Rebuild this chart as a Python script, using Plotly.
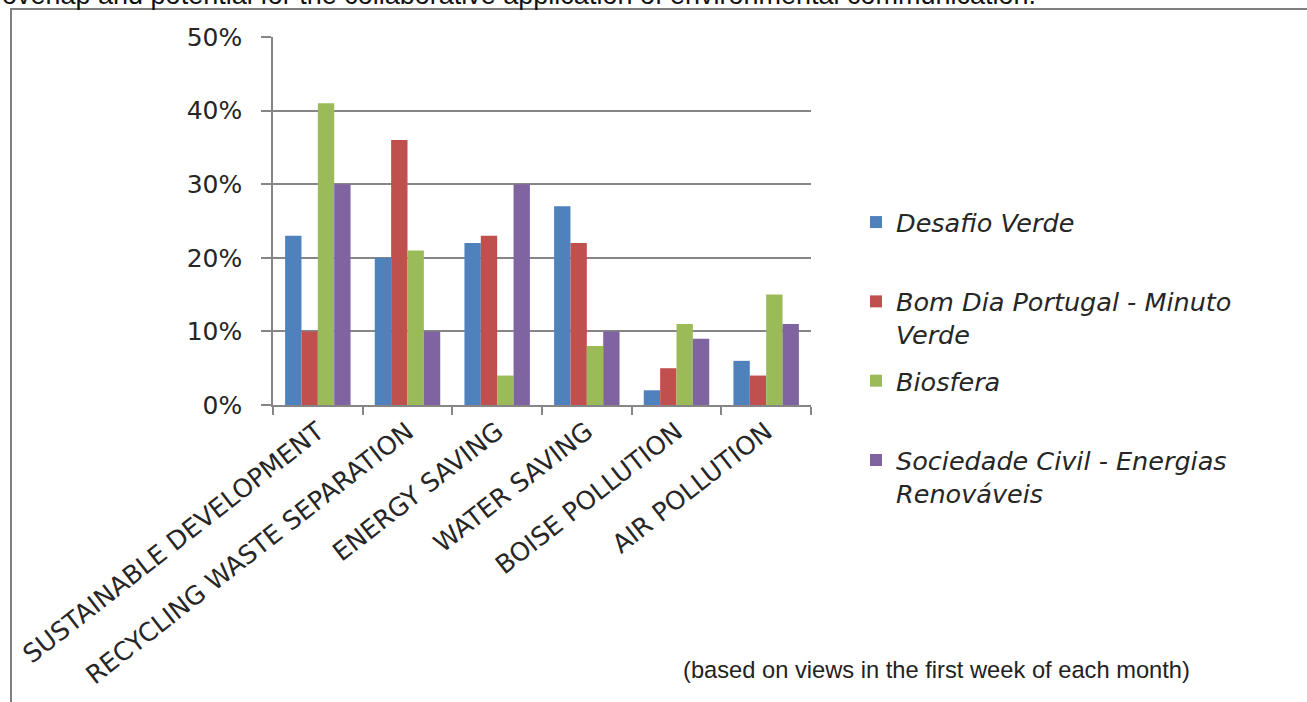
import plotly.graph_objects as go

categories = ["SUSTAINABLE DEVELOPMENT", "RECYCLING WASTE SEPARATION", "ENERGY SAVING",
              "WATER SAVING", "BOISE POLLUTION", "AIR POLLUTION"]
series_names = ["<i>Desafio Verde</i><br> ", "<i>Bom Dia Portugal - Minuto</i><br><i>Verde</i>",
                "<i>Biosfera</i><br> ", "<i>Sociedade Civil - Energias</i><br><i>Renováveis</i>"]
desafio_verde = [0.23, 0.20, 0.22, 0.27, 0.02, 0.06]
bom_dia = [0.10, 0.36, 0.23, 0.22, 0.05, 0.04]
biosfera = [0.41, 0.21, 0.04, 0.08, 0.11, 0.15]
sociedade = [0.30, 0.10, 0.30, 0.10, 0.09, 0.11]
colors = ["#4F81BD", "#C0504D", "#9BBB59", "#8064A2"]

values = [desafio_verde, bom_dia, biosfera, sociedade]

fig = go.Figure()
for i, (name, vals) in enumerate(zip(series_names, values)):
    fig.add_trace(go.Bar(x=categories, y=vals, name=name, marker_color=colors[i],
                         marker_line_width=0, legendgroup=f"g{i}"))

W, H = 1307, 702
L, R, T, B = 273, W - 811, 37, H - 405
pw, ph = W - L - R, H - T - B

def px_x(x):
    return (x - L) / pw

def px_y(y):
    return (H - B - y) / ph

text_col = "#262626"
grid_col = "#868686"

fig.update_layout(
    width=W, height=H,
    margin=dict(l=L, r=R, t=T, b=B, autoexpand=False),
    paper_bgcolor="white", plot_bgcolor="white",
    barmode="group", bargap=0.27, bargroupgap=0,
    font=dict(family="DejaVu Sans", color=text_col),
    legend=dict(
        x=px_x(856), y=px_y(199), xanchor="left", yanchor="top",
        font=dict(family="DejaVu Sans", size=25.5, color=text_col),
        valign="top", tracegroupgap=10, bgcolor="rgba(0,0,0,0)",
    ),
    showlegend=True,
)
fig.update_xaxes(
    showline=True, linecolor=grid_col, linewidth=1.5,
    ticks="outside", ticklen=8, tickcolor=grid_col, tickwidth=1.5,
    tickson="boundaries", tickangle=-38,
    tickfont=dict(family="DejaVu Sans", size=25.5, color=text_col),
    showgrid=False,
)
fig.update_yaxes(
    range=[0, 0.5], dtick=0.1, tickformat=".0%",
    showline=True, linecolor=grid_col, linewidth=1.5,
    ticks="outside", ticklen=10, tickcolor=grid_col, tickwidth=1.5,
    ticklabelstandoff=14,
    showgrid=True, gridcolor=grid_col, gridwidth=1.5,
    zeroline=False,
    tickfont=dict(family="DejaVu Sans", size=25, color=text_col),
)

# outer frame of the figure image
fig.add_shape(type="rect", xref="paper", yref="paper",
              x0=px_x(11), x1=px_x(1400), y0=px_y(800), y1=px_y(9),
              line=dict(color="#808080", width=2), fillcolor="rgba(0,0,0,0)", layer="below")

fig.add_annotation(
    text="overlap and potential for the collaborative application of environmental communication.",
    xref="paper", yref="paper", x=px_x(0), y=px_y(12), xanchor="left", yanchor="bottom",
    showarrow=False, font=dict(family="Liberation Sans", size=27, color="#111"),
)
fig.add_annotation(
    text="(based on views in the first week of each month)",
    xref="paper", yref="paper", x=px_x(936), y=px_y(670), xanchor="center", yanchor="middle",
    showarrow=False, font=dict(family="Liberation Sans", size=23.7, color="#222"),
)

fig.write_html("out.html")
